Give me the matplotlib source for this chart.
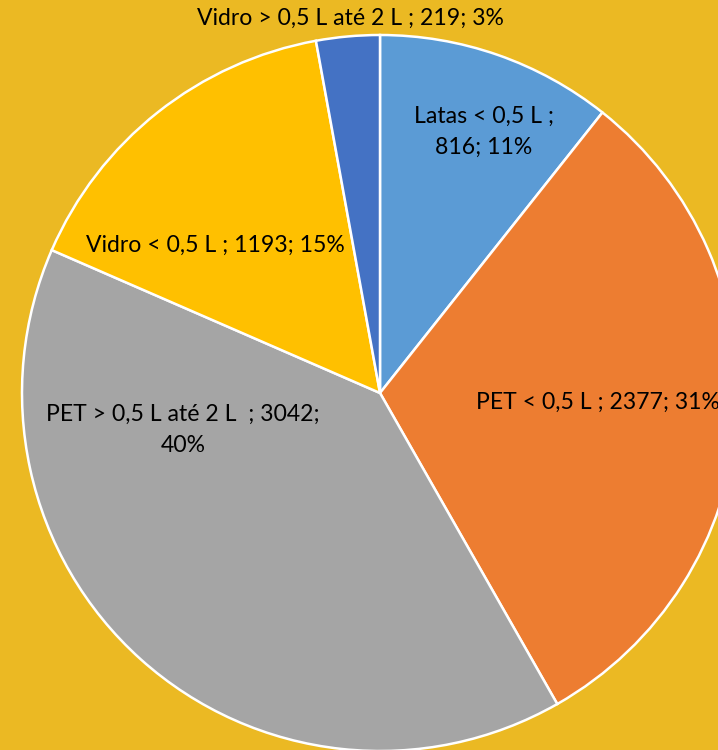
import matplotlib.pyplot as plt

# data
categories = ["Latas < 0,5 L", "PET < 0,5 L", "PET > 0,5 L até 2 L ", "Vidro < 0,5 L", "Vidro > 0,5 L até 2 L"]
values = [816, 2377, 3042, 1193, 219]
percents = ["11%", "31%", "40%", "15%", "3%"]
colors = ["#5B9BD5", "#ED7D31", "#A5A5A5", "#FFC000", "#4472C4"]

bg = "#EBB923"
plt.rcParams['font.family'] = ['Lato', 'DejaVu Sans']

fig = plt.figure(figsize=(7.18, 7.5), dpi=100, facecolor=bg)
ax = fig.add_axes([0, 0, 1, 1])
ax.set_facecolor(bg)

ax.pie(values, colors=colors, startangle=90, counterclock=False,
       center=(380, 357), radius=358, frame=True,
       wedgeprops=dict(edgecolor='white', linewidth=1.8))
ax.set_xlim(0, 718)
ax.set_ylim(0, 750)
ax.set_aspect('equal')
ax.axis('off')

def lab(i):
    return f"{categories[i]} ; {values[i]}; {percents[i]}"

fs = 16.6
# label positions (pixel coords, y measured from bottom)
# PET < 0,5 L runs off the right edge, as in the reference
ax.text(484, 750 - 132, f"{categories[0]} ;\n{values[0]}; {percents[0]}", ha='center', va='center',
        fontsize=fs, linespacing=1.55)
ax.text(476, 750 - 402, lab(1), ha='left', va='center', fontsize=fs)
ax.text(183, 750 - 430, f"{categories[2]} ; {values[2]};\n{percents[2]}", ha='center', va='center',
        fontsize=fs, linespacing=1.55)
ax.text(215, 750 - 245, lab(3), ha='center', va='center', fontsize=fs)
ax.text(350, 750 - 18, lab(4), ha='center', va='center', fontsize=fs)

fig.savefig("out.png", dpi=100, facecolor=bg)
